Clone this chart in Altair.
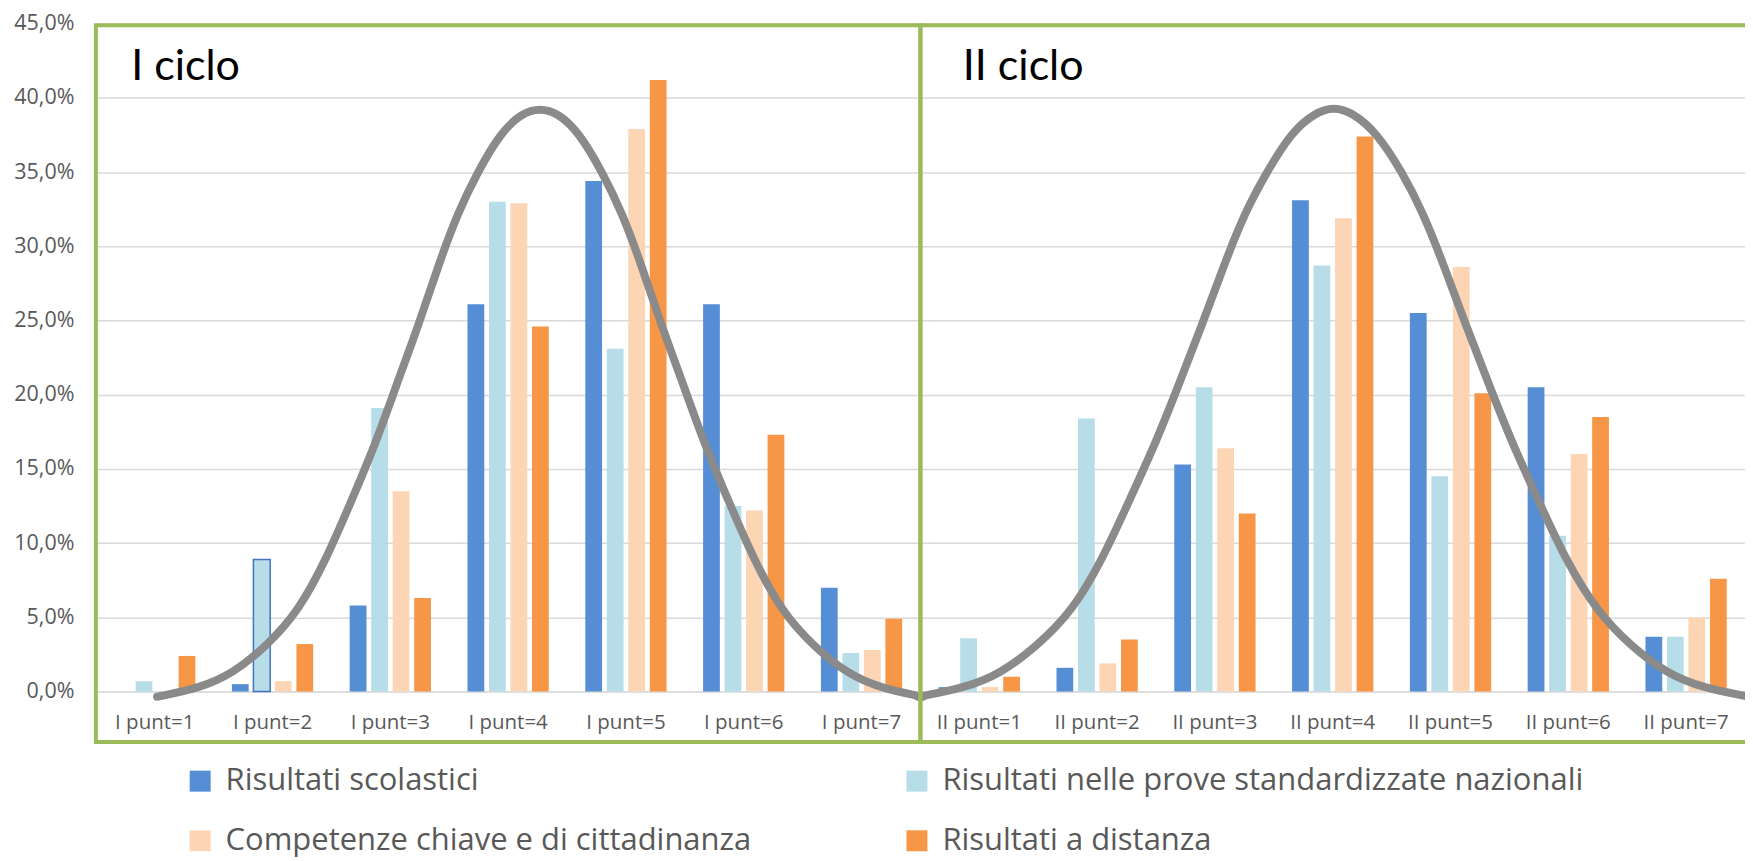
import altair as alt
import pandas as pd

categories = ["I punt=1", "I punt=2", "I punt=3", "I punt=4", "I punt=5", "I punt=6", "I punt=7",
              "II punt=1", "II punt=2", "II punt=3", "II punt=4", "II punt=5", "II punt=6", "II punt=7"]
series = ["Risultati scolastici", "Risultati nelle prove standardizzate nazionali",
          "Competenze chiave e di cittadinanza", "Risultati a distanza"]
colors = ["#558ED5", "#B7DEE8", "#FCD5B5", "#F79646"]
# legend fills row by row in the picture: order the colour domain for a 2-column grid
legend_order = [series[0], series[2], series[1], series[3]]
legend_colors = [colors[0], colors[2], colors[1], colors[3]]

scolastici = [0.0, 0.5, 5.8, 26.1, 34.4, 26.1, 7.0, 0.3, 1.6, 15.3, 33.1, 25.5, 20.5, 3.7]
prove = [0.7, 8.9, 19.1, 33.0, 23.1, 12.5, 2.6, 3.6, 18.4, 20.5, 28.7, 14.5, 10.5, 3.7]
competenze = [0.0, 0.7, 13.5, 32.9, 37.9, 12.2, 2.8, 0.3, 1.9, 16.4, 31.9, 28.6, 16.0, 5.0]
distanza = [2.4, 3.2, 6.3, 24.6, 41.2, 17.3, 4.9, 1.0, 3.5, 12.0, 37.4, 20.1, 18.5, 7.6]

# bell curves (x in category units, 0 = first category; y in %)
curve1_x = [0.02, 0.38, 0.66, 0.94, 1.22, 1.46, 1.64, 1.87, 2.04, 2.24, 2.42, 2.57, 2.74, 2.94,
            3.12, 3.27, 3.42, 3.60, 3.80, 3.97, 4.12, 4.30, 4.50, 4.67, 4.90, 5.08, 5.32, 5.60,
            5.88, 6.16, 6.52]
curve1_y = [-0.35, 0.23, 1.2, 3.0, 5.4, 9.0, 12.3, 16.6, 20.4, 24.7, 29.0, 32.2, 35.0, 37.7,
            39.0, 39.3, 39.0, 37.7, 35.0, 32.2, 29.0, 24.7, 20.4, 16.6, 12.3, 9.0, 5.4, 3.0,
            1.2, 0.23, -0.35]
curve2_x = [6.48, 6.87, 7.18, 7.48, 7.79, 8.05, 8.24, 8.49, 8.68, 8.89, 9.09, 9.25, 9.44, 9.65,
            9.85, 10.01, 10.17, 10.37, 10.59, 10.77, 10.93, 11.13, 11.34, 11.53, 11.78, 11.97,
            12.24, 12.54, 12.84, 13.15, 13.54]
curve2_y = [-0.35, 0.23, 1.2, 3.0, 5.4, 9.0, 12.3, 16.6, 20.4, 24.7, 29.0, 32.2, 35.0, 37.7,
            39.0, 39.4, 39.0, 37.7, 35.0, 32.2, 29.0, 24.7, 20.4, 16.6, 12.3, 9.0, 5.4, 3.0,
            1.2, 0.23, -0.35]

panel_titles = ["I ciclo", "II ciclo"]
panel_title_x = [-0.2, 6.86]
panel_title_y = [41.2, 41.2]

frame_x0 = [-0.5, 6.5]
frame_x1 = [6.5, 14.2]
frame_top = [44.9, 44.9]
frame_bottom = [-3.4, -3.4]

y_ticks = [0, 5, 10, 15, 20, 25, 30, 35, 40, 45]

rows = []
for s, vals in zip(series, [scolastici, prove, competenze, distanza]):
    for c, v in zip(categories, vals):
        rows.append({"cat": c, "serie": s, "val": v})
bars_df = pd.DataFrame(rows)

curve_df = pd.DataFrame(
    [{"curve": "c1", "u": x, "val": y} for x, y in zip(curve1_x, curve1_y)]
    + [{"curve": "c2", "u": x, "val": y} for x, y in zip(curve2_x, curve2_y)]
)
title_df = pd.DataFrame({"label": panel_titles, "u": panel_title_x, "val": panel_title_y})
frame_df = pd.DataFrame({"u0": frame_x0, "u1": frame_x1, "val": frame_top, "bot": frame_bottom})

yscale = alt.Scale(domain=[0, 45], nice=False, zero=False)
uscale = alt.Scale(domain=[-0.5, 13.5], nice=False, zero=False)
FONT = "Open Sans"
GREY = "#595959"

sel = "datum.cat == 'I punt=2' && datum.serie == 'Risultati nelle prove standardizzate nazionali'"

bars = alt.Chart(bars_df).mark_bar().encode(
    x=alt.X("cat:N", sort=categories, title=None,
            scale=alt.Scale(paddingInner=0.31, paddingOuter=0.155),
            axis=alt.Axis(domain=False, ticks=False, labelAngle=0, labelFont=FONT,
                          labelFontSize=20.5, labelColor=GREY, labelPadding=21)),
    xOffset=alt.XOffset("serie:N", sort=series,
                        scale=alt.Scale(paddingInner=0.22, paddingOuter=0)),
    y=alt.Y("val:Q", scale=yscale, title=None,
            axis=alt.Axis(values=y_ticks, domain=False, ticks=False, grid=True,
                          gridColor="#D9D9D9", gridWidth=1.5, labelFont=FONT,
                          labelFontSize=21.5, labelColor=GREY, labelPadding=22,
                          labelExpr="replace(format(datum.value, '.1f'), '.', ',') + '%'")),
    color=alt.Color("serie:N", scale=alt.Scale(domain=legend_order, range=legend_colors),
                    legend=alt.Legend(title=None, orient="none", legendX=89, legendY=743,
                                      columns=2, columnPadding=150, rowPadding=28,
                                      symbolType="square", symbolSize=441,
                                      symbolStrokeWidth=0, labelFont=FONT, labelFontSize=31,
                                      labelColor=GREY, labelOffset=10, labelLimit=1000,
                                      padding=0)),
    stroke=alt.value("#4472C4"),
    strokeWidth=alt.condition(sel, alt.value(1.5), alt.value(0)),
)

curves = alt.Chart(curve_df).mark_line(color="#8A8A8A", strokeWidth=8, interpolate="basis",
                                        strokeCap="round").encode(
    x=alt.X("u:Q", scale=uscale, axis=None),
    y=alt.Y("val:Q", scale=yscale, title=None),
    detail="curve:N",
)

frames = alt.Chart(frame_df).mark_rect(fillOpacity=0, stroke="#9BBB59", strokeWidth=4).encode(
    x=alt.X("u0:Q", scale=uscale, axis=None),
    x2="u1:Q",
    y=alt.Y("val:Q", scale=yscale, title=None),
    y2="bot:Q",
)

titles = alt.Chart(title_df).mark_text(align="left", baseline="alphabetic", font="Lato",
                                       fontSize=43, color="#000000").encode(
    x=alt.X("u:Q", scale=uscale, axis=None),
    y=alt.Y("val:Q", scale=yscale, title=None),
    text="label:N",
)

chart = alt.layer(bars, curves, frames, titles).resolve_scale(x="independent").properties(
    width=1652, height=669,
    autosize=alt.AutoSizeParams(type="none"),
    padding={"left": 88, "top": 15, "right": 0, "bottom": 169},
).configure_view(stroke=None).configure(background="white")

chart.save("out.html", embed_options={"renderer": "svg", "actions": False})
